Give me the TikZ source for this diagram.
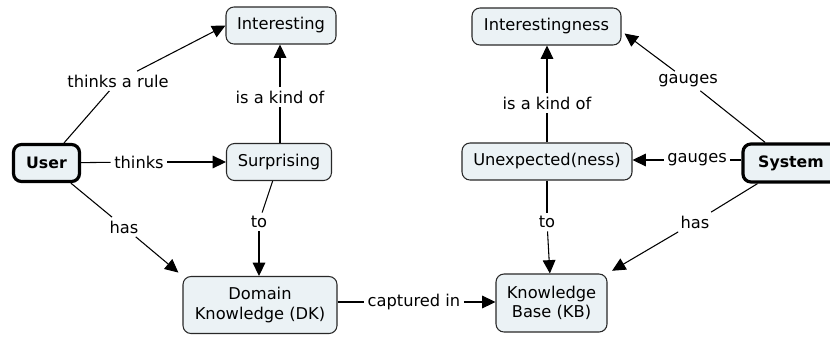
\documentclass[tikz,border=0pt]{standalone}
\usepackage{fontspec}
\setmainfont{DejaVu Sans}
\usetikzlibrary{arrows.meta,calc}
\definecolor{cfill}{RGB}{235,242,245}
\definecolor{cline}{RGB}{40,40,40}
\tikzset{
  concept/.style={draw=cline, line width=0.8pt, fill=cfill, rounded corners=6pt,
    inner sep=0pt, align=center, font=\fontsize{12.2}{14.5}\selectfont},
  actor/.style={concept, draw=black, line width=2.4pt, font=\fontsize{11.8}{14}\selectfont\bfseries},
  lbl/.style={fill=white, inner sep=2.5pt, font=\fontsize{12.2}{14}\selectfont},
  conn/.style={line width=0.8pt, draw=black},
  arr/.style={conn, -{Triangle[length=10pt,width=9.5pt]}},
}
\begin{document}
\begin{tikzpicture}[x=0.75pt,y=-0.75pt]
\useasboundingbox (0,0) rectangle (830,336);
% concepts
\node[concept, minimum width=82.5pt, minimum height=27.75pt] (int) at (281,25.5) {Interesting};
\node[concept, minimum width=78.75pt, minimum height=27.75pt] (surp) at (279,162) {Surprising};
\node[actor, minimum width=49.5pt, minimum height=27.75pt] (user) at (46.5,163) {User};
\node[concept, minimum width=115.5pt, minimum height=42.75pt] (dk) at (260,305) {Domain\\Knowledge (DK)};
\node[concept, minimum width=83.25pt, minimum height=43.5pt] (kb) at (551.5,303) {Knowledge\\Base (KB)};
\node[concept, minimum width=111.75pt, minimum height=27.75pt] (intn) at (546.5,26.5) {Interestingness};
\node[concept, minimum width=127.5pt, minimum height=27.75pt] (unexp) at (547,161.5) {Unexpected(ness)};
\node[actor, minimum width=72pt, minimum height=28.5pt] (sys) at (791,163) {System};
% labels
\node[lbl] (l1) at (118,81) {thinks a rule};
\node[lbl] (l2) at (139,162) {thinks};
\node[lbl] (l3) at (280,97) {is a kind of};
\node[lbl] (l4) at (124,227) {has};
\node[lbl] (l5) at (259,222) {to};
\node[lbl] (l6) at (414,302) {captured in};
\node[lbl] (l7) at (547,103) {is a kind of};
\node[lbl] (l8) at (688,81) {gauges};
\node[lbl] (l9) at (697,160) {gauges};
\node[lbl] (l10) at (547,222) {to};
\node[lbl] (l11) at (695,222) {has};
% connectors
\draw[conn] (user) -- (l1);
\draw[arr] (l1) -- (int.west);
\draw[conn] (user) -- (l2);
\draw[arr] (l2) -- (surp.west |- l2);
\draw[conn] (surp.north -| l3) -- (l3);
\draw[arr] (l3) -- (l3 |- int.south);
\draw[conn] (user) -- (l4);
\draw[arr, shorten >=4pt] (l4) -- (dk.north west);
\draw[conn] (surp) -- (l5);
\draw[arr] (l5) -- (l5 |- dk.north);
\draw[conn] (dk.east |- l6) -- (l6);
\draw[arr] (l6) -- (kb.west |- l6);
\draw[conn] (unexp.north -| l7) -- (l7);
\draw[arr] (l7) -- (l7 |- intn.south);
\draw[conn] (sys) -- (l8);
\draw[arr] (l8) -- ($(intn.east)+(3,7)$);
\draw[conn] (sys.west |- l9) -- (l9);
\draw[arr] (l9) -- (unexp.east |- l9);
\draw[conn] (unexp.south -| l10) -- (l10);
\draw[arr] (l10) -- (kb);
\draw[conn] (sys) -- (l11);
\draw[arr, shorten >=4pt] (l11) -- (kb.north east);
\end{tikzpicture}
\end{document}
